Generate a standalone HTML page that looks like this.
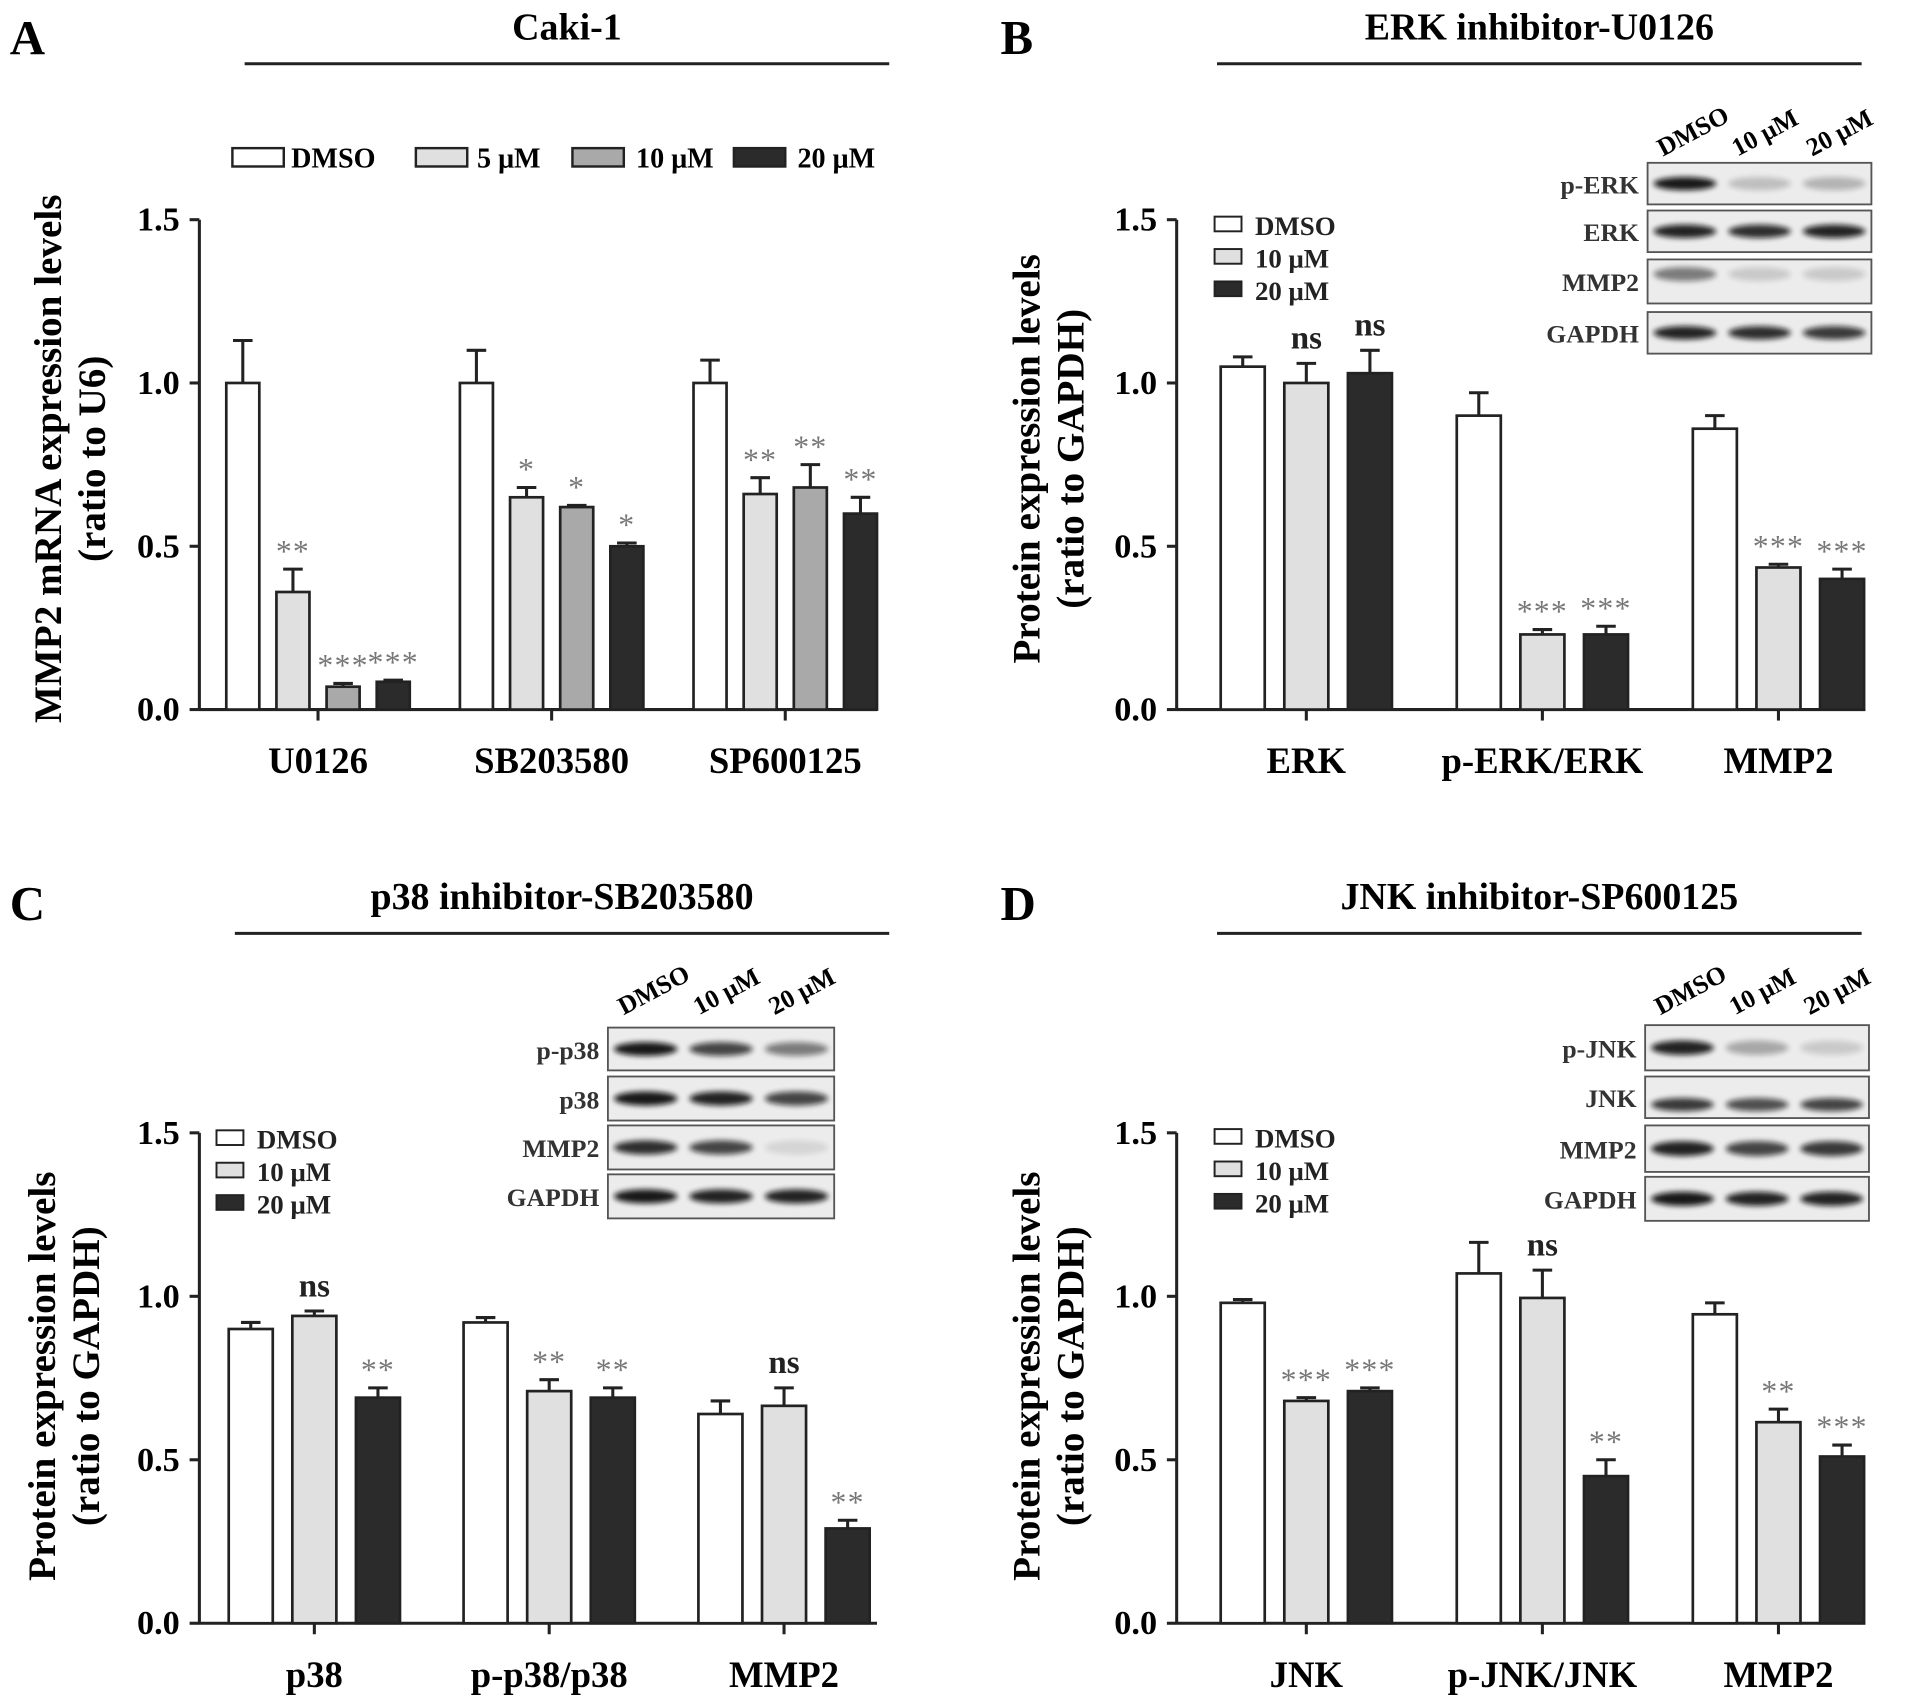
<!DOCTYPE html>
<html><head><meta charset="utf-8"><style>
html,body{margin:0;padding:0;background:#fff}
svg{display:block}
text{font-family:"Liberation Serif",serif;}
</style></head><body>
<svg id="fig" xmlns="http://www.w3.org/2000/svg" width="1913" height="1698" viewBox="0 0 1564 1388">
<defs><filter id="blur" x="-20%" y="-50%" width="140%" height="200%"><feGaussianBlur stdDeviation="2.2"/></filter></defs>
<rect width="1564" height="1388" fill="#fff"/>
</svg>
<script>
// ---- Panel A data ----
const catsA = ["U0126","SB203580","SP600125"];
const seriesA = ["DMSO","5 μM","10 μM","20 μM"];
const valsA_dmso = [1.0, 1.0, 1.0];
const valsA_5 = [0.36, 0.65, 0.66];
const valsA_10 = [0.07, 0.62, 0.68];
const valsA_20 = [0.085, 0.50, 0.60];
const errA_dmso = [0.13, 0.10, 0.07];
const errA_5 = [0.07, 0.03, 0.05];
const errA_10 = [0.01, 0.005, 0.07];
const errA_20 = [0.005, 0.01, 0.05];
const starsA_5 = ["**","*","**"];
const starsA_10 = ["***","*","**"];
const starsA_20 = ["***","*","**"];
// ---- Panel B data ----
const catsB = ["ERK","p-ERK/ERK","MMP2"];
const valsB_dmso = [1.05, 0.90, 0.86];
const valsB_10 = [1.00, 0.23, 0.435];
const valsB_20 = [1.03, 0.23, 0.40];
const errB_dmso = [0.03, 0.07, 0.04];
const errB_10 = [0.06, 0.015, 0.01];
const errB_20 = [0.07, 0.025, 0.03];
const starsB_10 = ["ns","***","***"];
const starsB_20 = ["ns","***","***"];
// ---- Panel C data ----
const catsC = ["p38","p-p38/p38","MMP2"];
const valsC_dmso = [0.90, 0.92, 0.64];
const valsC_10 = [0.94, 0.71, 0.665];
const valsC_20 = [0.69, 0.69, 0.29];
const errC_dmso = [0.02, 0.015, 0.04];
const errC_10 = [0.015, 0.035, 0.055];
const errC_20 = [0.03, 0.03, 0.025];
const starsC_10 = ["ns","**","ns"];
const starsC_20 = ["**","**","**"];
// ---- Panel D data ----
const catsD = ["JNK","p-JNK/JNK","MMP2"];
const valsD_dmso = [0.98, 1.07, 0.945];
const valsD_10 = [0.68, 0.995, 0.615];
const valsD_20 = [0.71, 0.45, 0.51];
const errD_dmso = [0.01, 0.095, 0.035];
const errD_10 = [0.01, 0.085, 0.04];
const errD_20 = [0.01, 0.05, 0.035];
const starsD_10 = ["***","ns","**"];
const starsD_20 = ["***","**","***"];
const yTicks = [0.0, 0.5, 1.0, 1.5];
const yTickLabels = ["0.0","0.5","1.0","1.5"];

const NS="http://www.w3.org/2000/svg";
const svg=document.getElementById('fig');
function el(tag,attrs,parent,txt){const e=document.createElementNS(NS,tag);for(const k in attrs)e.setAttribute(k,attrs[k]);if(txt!==undefined)e.textContent=txt;(parent||svg).appendChild(e);return e;}

function panel(o){
  const g=el('g',{});
  
  
  const y=v=>o.y0-v*o.unit;
  const xc=i=>o.c0+i*o.gs;
  const L=el('text',{x:o.lx,y:o.ly,'font-size':40,'font-weight':'bold'},g,o.letter);
  
  
  const T=el('text',{x:(o.tl1+o.tl2)/2,y:o.ty,'font-size':31,'font-weight':'bold','text-anchor':'middle'},g,o.title);
  
  
  const TL=el('line',{x1:o.tl1,x2:o.tl2,y1:o.ty+20,y2:o.ty+20,stroke:'#222','stroke-width':2.5},g);
  
  
  const yt=el('text',{transform:`translate(${o.ytx},${o.yty}) rotate(-90)`,'font-size':32,'font-weight':'bold','text-anchor':'middle'},g);
  
  
  el('tspan',{x:0,y:0},yt,o.yt1);
  el('tspan',{x:0,y:36},yt,o.yt2);
  const ya=el('line',{x1:o.ax,x2:o.ax,y1:y(1.5),y2:o.y0+1,stroke:'#222','stroke-width':2.5},g);
  
  
  const xa=el('line',{x1:o.ax,x2:o.axEnd,y1:o.y0,y2:o.y0,stroke:'#222','stroke-width':2.5},g);
  
  
  yTicks.forEach((t,i)=>{
    const tk=el('line',{x1:o.ax-8,x2:o.ax,y1:y(t),y2:y(t),stroke:'#222','stroke-width':2.5},g);
    
    
    const tl=el('text',{x:o.ax-16,y:y(t)+9,'font-size':28,'font-weight':'bold','text-anchor':'end'},g,yTickLabels[i]);
    
    
  });
  o.cats.forEach((c,i)=>{
    const tk=el('line',{x1:xc(i),x2:xc(i),y1:o.y0,y2:o.y0+9,stroke:'#222','stroke-width':2.5},g);
    
    
    const cl=el('text',{x:xc(i),y:o.y0+52,'font-size':30,'font-weight':'bold','text-anchor':'middle'},g,c);
    
    
  });
  o.series.forEach((s,si)=>{
    const off=(si-(o.series.length-1)/2)*o.bs;
    s.vals.forEach((v,i)=>{
      const cx=xc(i)+off;
      const top=y(v+s.err[i]);
      const el1=el('line',{x1:cx,x2:cx,y1:y(v),y2:top,stroke:'#222','stroke-width':2.5},g);
      
      
      const cap=el('line',{x1:cx-8,x2:cx+8,y1:top,y2:top,stroke:'#222','stroke-width':2.5},g);
      
      
      const b=el('rect',{x:cx-o.bw/2,y:y(v),width:o.bw,height:o.y0-y(v),fill:s.fill,stroke:'#222','stroke-width':2.2},g);
      
      
      if(s.stars&&s.stars[i]){
        const ns=s.stars[i]==='ns';
        const st=el('text',{x:cx,y:top-(ns?12:6),'font-size':ns?27:26,'font-weight':ns?'bold':'normal',fill:ns?'#222':'#777','text-anchor':'middle','letter-spacing':ns?0:1},g,s.stars[i]);
        
        
      }
    });
  });
}

const F=['#ffffff','#e0e0e0','#a9a9a9','#2b2b2b'];
panel({name:'panel-a',letter:'A',lx:8,ly:44,title:'Caki-1',ty:32,tl1:200,tl2:727,ytx:50,yty:375,yt1:'MMP2 mRNA expression levels',yt2:'(ratio to U6)',
  ax:163,axEnd:717,y0:580,unit:267,c0:260,gs:191,bs:41,bw:27,cats:catsA,
  series:[{vals:valsA_dmso,err:errA_dmso,fill:F[0]},{vals:valsA_5,err:errA_5,fill:F[1],stars:starsA_5},{vals:valsA_10,err:errA_10,fill:F[2],stars:starsA_10},{vals:valsA_20,err:errA_20,fill:F[3],stars:starsA_20}]});
panel({name:'panel-b',letter:'B',lx:818,ly:44,title:'ERK inhibitor-U0126',ty:32,tl1:995,tl2:1522,ytx:850,yty:375,yt1:'Protein expression levels',yt2:'(ratio to GAPDH)',
  ax:962,axEnd:1525,y0:580,unit:267,c0:1068,gs:193,bs:52,bw:36,cats:catsB,
  series:[{vals:valsB_dmso,err:errB_dmso,fill:F[0]},{vals:valsB_10,err:errB_10,fill:F[1],stars:starsB_10},{vals:valsB_20,err:errB_20,fill:F[3],stars:starsB_20}]});
panel({name:'panel-c',letter:'C',lx:8,ly:752,title:'p38 inhibitor-SB203580',ty:743,tl1:192,tl2:727,ytx:45,yty:1125,yt1:'Protein expression levels',yt2:'(ratio to GAPDH)',
  ax:163,axEnd:717,y0:1327,unit:267.3,c0:257,gs:192,bs:52,bw:36,cats:catsC,
  series:[{vals:valsC_dmso,err:errC_dmso,fill:F[0]},{vals:valsC_10,err:errC_10,fill:F[1],stars:starsC_10},{vals:valsC_20,err:errC_20,fill:F[3],stars:starsC_20}]});
panel({name:'panel-d',letter:'D',lx:818,ly:752,title:'JNK inhibitor-SP600125',ty:743,tl1:995,tl2:1522,ytx:850,yty:1125,yt1:'Protein expression levels',yt2:'(ratio to GAPDH)',
  ax:962,axEnd:1525,y0:1327,unit:267.3,c0:1068,gs:193,bs:52,bw:36,cats:catsD,
  series:[{vals:valsD_dmso,err:errD_dmso,fill:F[0]},{vals:valsD_10,err:errD_10,fill:F[1],stars:starsD_10},{vals:valsD_20,err:errD_20,fill:F[3],stars:starsD_20}]});

[[190,238,'DMSO',F[0]],[340,390,'5 μM',F[1]],[468,520,'10 μM',F[2]],[600,652,'20 μM',F[3]]].forEach(l=>{
  const r=el('rect',{x:l[0],y:121,width:42,height:15,fill:l[3],stroke:'#222','stroke-width':2});
  
  
  const t=el('text',{x:l[1],y:137,'font-size':23,'font-weight':'bold'},svg,l[2]);
  
  
});
[[993,184],[177,931],[993,930]].forEach(p=>{
  [['DMSO',F[0]],['10 μM',F[1]],['20 μM',F[3]]].forEach((l,i)=>{
    const yy=p[1]+i*26.5;
    const r=el('rect',{x:p[0],y:yy-7,width:22,height:12,fill:l[1],stroke:'#222','stroke-width':1.6});
    
    
    const t=el('text',{x:p[0]+33,y:yy+8,'font-size':22,'font-weight':'bold','fill':'#222'},svg,l[0]);
    
    
  });
});

function blot(o){
  const g=el('g',{});
  
  
  const lw=(o.x2-o.x1)/3;
  ['DMSO','10 μM','20 μM'].forEach((c,i)=>{
    const cx=o.x1+lw*i+lw/2-18;
    const t=el('text',{transform:`translate(${cx},${o.ly}) rotate(-28)`,'font-size':21,'font-weight':'bold'},g,c);
    
    
  });
  o.rows.forEach(r=>{
    const bx=el('rect',{x:o.x1,y:r.y,width:o.x2-o.x1,height:r.h,fill:'#ececec',stroke:'#555','stroke-width':1.5},g);
    
    
    r.b.forEach((k,i)=>{
      const cx=o.x1+lw*i+lw/2;
      const band=el('ellipse',{cx:cx,cy:r.y+r.h/2+(r.dy||0),rx:lw*0.42,ry:r.h*0.16,fill:'#111','opacity':k,filter:'url(#blur)'},g);
      
      
    });
    const t=el('text',{x:o.x1-7,y:r.y+r.h/2+8,'font-size':21,'font-weight':'bold','text-anchor':'end',fill:'#333'},g,r.label);
    
    
  });
}
blot({x1:1347,x2:1530,ly:128,rows:[
 {y:133,h:34,label:'p-ERK',b:[0.95,0.2,0.25]},
 {y:172,h:34,label:'ERK',b:[0.9,0.85,0.9]},
 {y:212,h:36,label:'MMP2',b:[0.5,0.15,0.15],dy:-6},
 {y:255,h:34,label:'GAPDH',b:[0.9,0.85,0.8]}]});
blot({x1:497,x2:682,ly:830,rows:[
 {y:840,h:35,label:'p-p38',b:[0.95,0.75,0.5]},
 {y:880,h:36,label:'p38',b:[0.95,0.9,0.75]},
 {y:920,h:36,label:'MMP2',b:[0.85,0.75,0.1]},
 {y:960,h:36,label:'GAPDH',b:[0.95,0.9,0.9]}]});
blot({x1:1345,x2:1528,ly:830,rows:[
 {y:838,h:37,label:'p-JNK',b:[0.9,0.3,0.15]},
 {y:880,h:34,label:'JNK',b:[0.8,0.7,0.75],dy:6},
 {y:920,h:38,label:'MMP2',b:[0.9,0.75,0.8]},
 {y:962,h:36,label:'GAPDH',b:[0.95,0.9,0.9]}]});
</script>
</body></html>
